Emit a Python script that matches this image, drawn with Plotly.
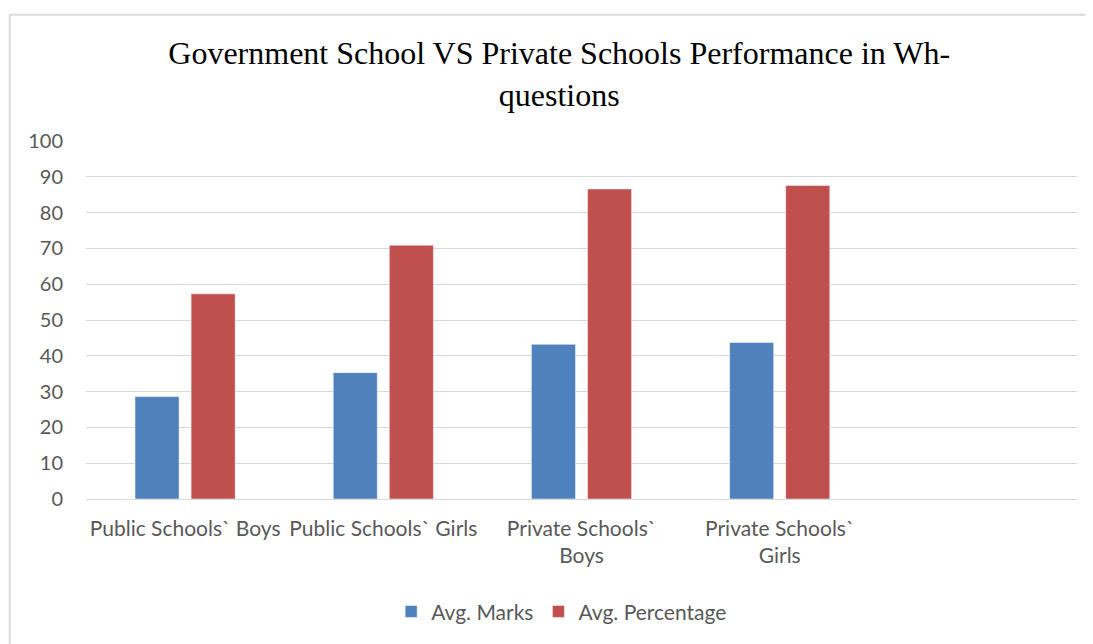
import plotly.graph_objects as go

categories = ["Public Schools` Boys", "Public Schools` Girls",
              "Private Schools`<br>Boys", "Private Schools`<br>Girls"]
avg_marks = [28.6, 35.3, 43.2, 43.7]
avg_percentage = [57.3, 70.9, 86.6, 87.6]
series_names = ["Avg. Marks", "Avg. Percentage"]
y_ticks = [0, 10, 20, 30, 40, 50, 60, 70, 80, 90, 100]

BLUE = "#4F81BD"
RED = "#C0504D"
FONT = "Lato, sans-serif"

fig = go.Figure()
fig.add_trace(go.Bar(x=categories, y=avg_marks, name=series_names[0],
                     marker=dict(color=BLUE, line=dict(color="#ffffff", width=0.5))))
fig.add_trace(go.Bar(x=categories, y=avg_percentage, name=series_names[1],
                     marker=dict(color=RED, line=dict(color="#ffffff", width=0.5))))

fig.update_layout(
    width=1085, height=636,
    paper_bgcolor="white", plot_bgcolor="white",
    margin=dict(l=78, r=16, t=133, b=143, pad=0),
    barmode="group", bargap=0.434, bargroupgap=0.214,
    title=dict(text="Government School VS Private Schools Performance in Wh-<br>questions",
               x=0.508, xanchor="center", y=0.912, yanchor="middle",
               font=dict(family="Liberation Serif, Times New Roman, serif", size=32, color="#000000")),
    font=dict(family=FONT, size=21, color="#595959"),
    showlegend=True,
    legend=dict(orientation="h", x=0.48, xanchor="center", y=-0.315, yanchor="middle",
                font=dict(family=FONT, size=21, color="#595959"),
                itemwidth=30, traceorder="normal"),
    xaxis=dict(range=[-0.5, 4.5], showgrid=False, showline=False, ticks="",
               tickfont=dict(family=FONT, size=21, color="#595959"), tickangle=0,
               ticklabelstandoff=15, fixedrange=True),
    yaxis=dict(range=[0, 100], tickvals=y_ticks, showgrid=True, gridcolor="#d9d9d9",
               gridwidth=1, zeroline=True, zerolinecolor="#d9d9d9", zerolinewidth=1,
               showline=False, ticks="", ticklabelstandoff=22,
               tickfont=dict(family=FONT, size=20, color="#595959")),
    shapes=[
        dict(type="line", xref="paper", yref="paper", x0=-0.077, x1=1.02, y0=1.353, y1=1.353,
             line=dict(color="#d9d9d9", width=2)),
        dict(type="line", xref="paper", yref="paper", x0=-0.077, x1=-0.077, y0=1.353, y1=-0.5,
             line=dict(color="#d9d9d9", width=2)),
    ],
)

fig.write_html("out.html")
